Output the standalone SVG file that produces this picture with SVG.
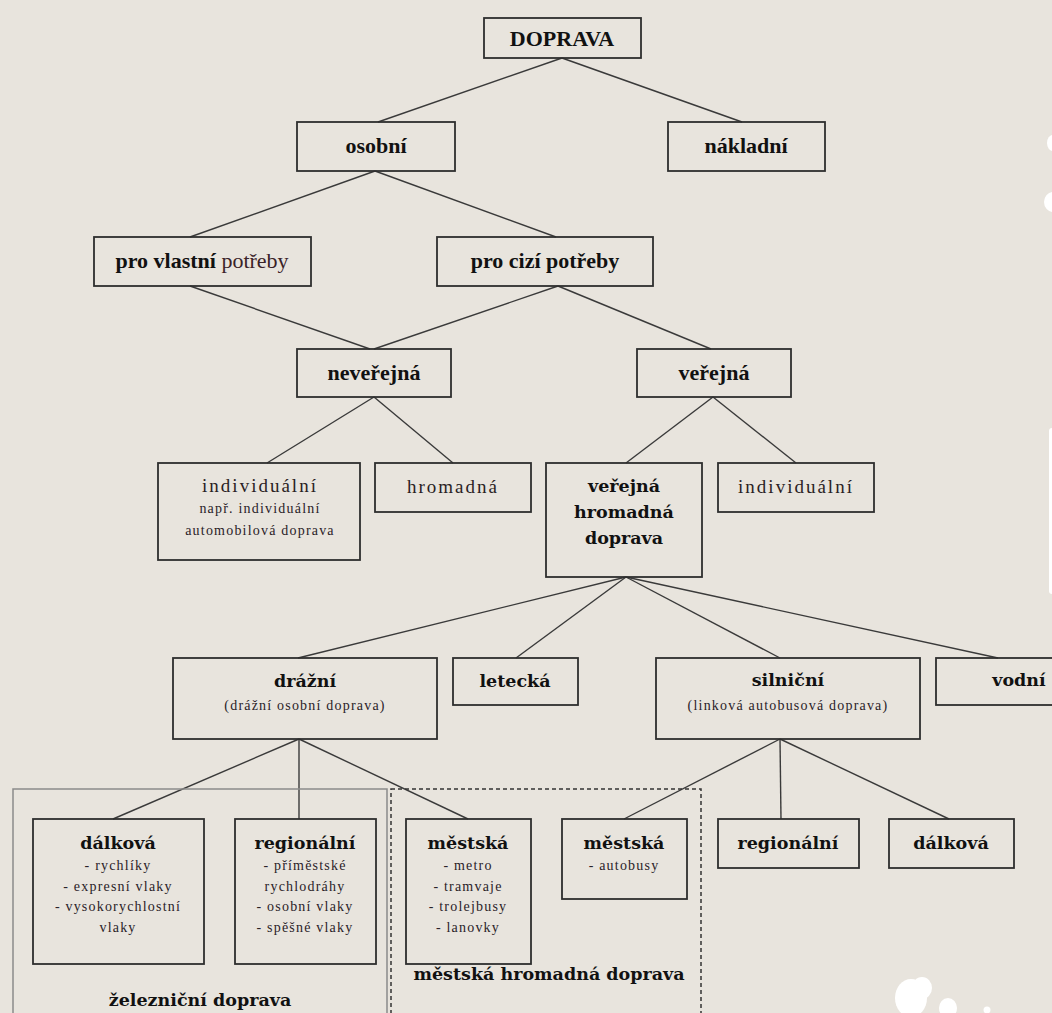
<svg xmlns="http://www.w3.org/2000/svg" width="1052" height="1013" viewBox="0 0 1052 1013">
<style>
.bx{fill:none;stroke:#2e2e2e;stroke-width:1.8}
.cn line{stroke:#3a3a3a;stroke-width:1.4}
.t1{font-family:"Liberation Serif",serif;font-weight:bold;font-size:22px;fill:#111;text-anchor:middle}
.t2{font-family:"DejaVu Serif",serif;font-weight:bold;font-size:17.5px;fill:#111;text-anchor:middle}
.t3{font-family:"Liberation Serif",serif;font-size:19px;letter-spacing:2px;fill:#2a1e24;text-anchor:middle}
.s{font-family:"Liberation Serif",serif;font-size:14px;letter-spacing:1.2px;fill:#2a2228;text-anchor:middle}
.blob{fill:#ffffff}
</style>
<rect x="0" y="0" width="1052" height="1013" fill="#E8E4DD"/>
<!-- decorative white blobs -->
<ellipse class="blob" cx="1053" cy="143" rx="6" ry="8"/>
<ellipse class="blob" cx="1053" cy="202" rx="9" ry="10"/>
<rect class="blob" x="1049" y="428" width="10" height="166" rx="3"/>
<ellipse class="blob" cx="911" cy="998" rx="16" ry="19"/>
<ellipse class="blob" cx="922" cy="988" rx="10" ry="11"/>
<ellipse class="blob" cx="948" cy="1008" rx="9" ry="10"/>
<circle class="blob" cx="987" cy="1010" r="3.5"/>

<g id="connectors" class="cn">
<line x1="562" y1="58" x2="378" y2="122"/>
<line x1="562" y1="58" x2="742" y2="122"/>
<line x1="375" y1="171" x2="190" y2="237"/>
<line x1="375" y1="171" x2="556" y2="237"/>
<line x1="190" y1="286" x2="370" y2="349"/>
<line x1="558" y1="286" x2="374" y2="349"/>
<line x1="558" y1="286" x2="711" y2="349"/>
<line x1="374" y1="397" x2="267" y2="463"/>
<line x1="374" y1="397" x2="453" y2="463"/>
<line x1="713" y1="397" x2="626" y2="463"/>
<line x1="713" y1="397" x2="796" y2="463"/>
<line x1="626" y1="577" x2="298" y2="658"/>
<line x1="626" y1="577" x2="516" y2="658"/>
<line x1="626" y1="577" x2="780" y2="658"/>
<line x1="626" y1="577" x2="998" y2="658"/>
<line x1="299" y1="739" x2="113" y2="819"/>
<line x1="299" y1="739" x2="299" y2="819"/>
<line x1="299" y1="739" x2="468" y2="819"/>
<line x1="780" y1="739" x2="624" y2="819"/>
<line x1="780" y1="739" x2="781" y2="819"/>
<line x1="780" y1="739" x2="949" y2="819"/>
</g>

<g id="group-zeleznicni">
<rect x="13" y="789" width="374" height="240" fill="none" stroke="#8a8a8a" stroke-width="1.5"/>
<text class="t2" x="200" y="1006">železniční doprava</text>
</g>
<g id="group-mhd">
<rect x="391" y="789" width="310" height="240" fill="none" stroke="#333" stroke-width="1.5" stroke-dasharray="4 3"/>
<text class="t2" x="549" y="980">městská hromadná doprava</text>
</g>

<g id="n-doprava"><rect class="bx" x="484" y="18" width="157" height="40"/><text class="t1" x="562" y="46">DOPRAVA</text></g>
<g id="n-osobni"><rect class="bx" x="297" y="122" width="158" height="49"/><text class="t1" x="376" y="153">osobní</text></g>
<g id="n-nakladni"><rect class="bx" x="668" y="122" width="157" height="49"/><text class="t1" x="746" y="153">nákladní</text></g>
<g id="n-vlastni"><rect class="bx" x="94" y="237" width="217" height="49"/><text class="t1" x="202" y="268">pro vlastní <tspan font-weight="normal" fill="#3a2228">potřeby</tspan></text></g>
<g id="n-cizi"><rect class="bx" x="437" y="237" width="216" height="49"/><text class="t1" x="545" y="268">pro cizí potřeby</text></g>
<g id="n-neverejna"><rect class="bx" x="297" y="349" width="154" height="48"/><text class="t1" x="374" y="380">neveřejná</text></g>
<g id="n-verejna"><rect class="bx" x="637" y="349" width="154" height="48"/><text class="t1" x="714" y="380">veřejná</text></g>

<g id="n-individualni1"><rect class="bx" x="158" y="463" width="202" height="97"/>
<text class="t3" x="260" y="492">individuální</text>
<text class="s" x="260" y="513">např. individuální</text>
<text class="s" x="260" y="535">automobilová doprava</text></g>
<g id="n-hromadna"><rect class="bx" x="375" y="463" width="156" height="49"/><text class="t3" x="453" y="493">hromadná</text></g>
<g id="n-vhd"><rect class="bx" x="546" y="463" width="156" height="114"/>
<text class="t2" x="624" y="492">veřejná</text>
<text class="t2" x="624" y="518">hromadná</text>
<text class="t2" x="624" y="544">doprava</text></g>
<g id="n-individualni2"><rect class="bx" x="718" y="463" width="156" height="49"/><text class="t3" x="796" y="493">individuální</text></g>

<g id="n-drazni"><rect class="bx" x="173" y="658" width="264" height="81"/>
<text class="t2" x="305" y="687">drážní</text>
<text class="s" x="305" y="710">(drážní osobní doprava)</text></g>
<g id="n-letecka"><rect class="bx" x="453" y="658" width="125" height="47"/><text class="t2" x="515" y="687">letecká</text></g>
<g id="n-silnicni"><rect class="bx" x="656" y="658" width="264" height="81"/>
<text class="t2" x="788" y="686">silniční</text>
<text class="s" x="788" y="710">(linková autobusová doprava)</text></g>
<g id="n-vodni"><rect class="bx" x="936" y="658" width="130" height="47"/><text class="t2" x="1019" y="686">vodní</text></g>

<g id="n-dalkova1"><rect class="bx" x="33" y="819" width="171" height="145"/>
<text class="t2" x="118" y="849">dálková</text>
<text class="s" x="118" y="870">- rychlíky</text>
<text class="s" x="118" y="891">- expresní vlaky</text>
<text class="s" x="118" y="911">- vysokorychlostní</text>
<text class="s" x="118" y="932">vlaky</text></g>
<g id="n-regionalni1"><rect class="bx" x="235" y="819" width="141" height="145"/>
<text class="t2" x="305" y="849">regionální</text>
<text class="s" x="305" y="870">- příměstské</text>
<text class="s" x="305" y="891">rychlodráhy</text>
<text class="s" x="305" y="911">- osobní vlaky</text>
<text class="s" x="305" y="932">- spěšné vlaky</text></g>
<g id="n-mestska1"><rect class="bx" x="406" y="819" width="125" height="145"/>
<text class="t2" x="468" y="849">městská</text>
<text class="s" x="468" y="870">- metro</text>
<text class="s" x="468" y="891">- tramvaje</text>
<text class="s" x="468" y="911">- trolejbusy</text>
<text class="s" x="468" y="932">- lanovky</text></g>
<g id="n-mestska2"><rect class="bx" x="562" y="819" width="125" height="80"/>
<text class="t2" x="624" y="849">městská</text>
<text class="s" x="624" y="870">- autobusy</text></g>
<g id="n-regionalni2"><rect class="bx" x="718" y="819" width="141" height="49"/><text class="t2" x="788" y="849">regionální</text></g>
<g id="n-dalkova2"><rect class="bx" x="889" y="819" width="125" height="49"/><text class="t2" x="951" y="849">dálková</text></g>
</svg>
